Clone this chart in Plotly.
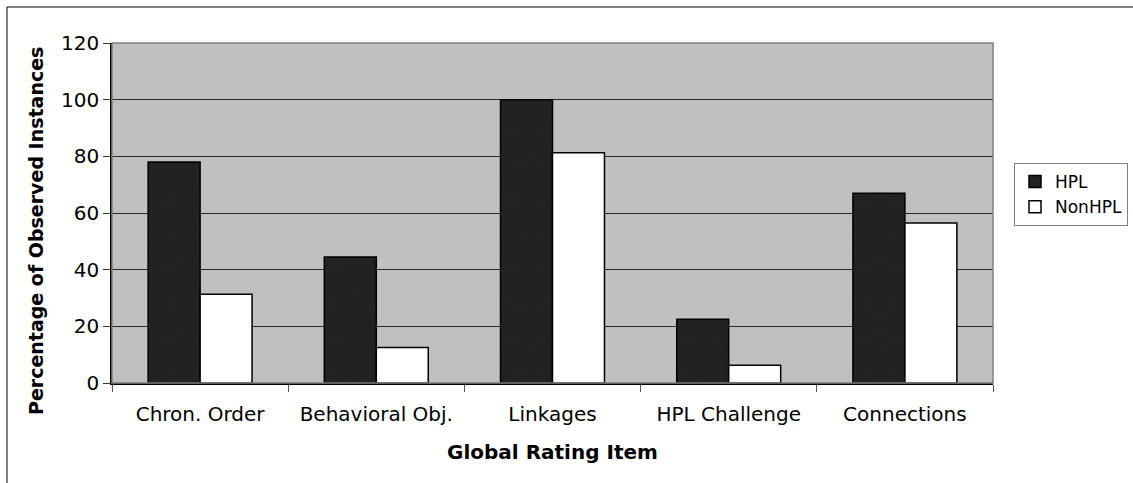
import plotly.graph_objects as go

categories = ["Chron. Order", "Behavioral Obj.", "Linkages", "HPL Challenge", "Connections"]
hpl = [78, 44.5, 100, 22.5, 67]
nonhpl = [31.3, 12.5, 81.3, 6.3, 56.5]
y_ticks = [0, 20, 40, 60, 80, 100, 120]

FONT = "DejaVu Sans, Verdana, sans-serif"

fig = go.Figure()
fig.add_trace(go.Bar(
    x=categories, y=hpl, name="HPL",
    marker=dict(color="#1e1e1e", line=dict(color="#000000", width=1.5),
                pattern=dict(shape="x", fgcolor="#444444", bgcolor="#1e1e1e", size=3, solidity=0.3)),
))
fig.add_trace(go.Bar(
    x=categories, y=nonhpl, name="NonHPL",
    marker=dict(color="#ffffff", line=dict(color="#000000", width=1.5)),
))

W, H = 1133, 483
L, R, T, B = 112, 140, 43, 100
pw, ph = W - L - R, H - T - B
bx = (7 - L) / pw          # outer frame left edge (paper units)
by = (H - B - 7) / ph      # outer frame top edge (paper units)

fig.update_layout(
    width=W, height=H,
    margin=dict(l=L, r=R, t=T, b=B, autoexpand=False),
    paper_bgcolor="#ffffff",
    plot_bgcolor="#c0c0c0",
    barmode="group",
    bargap=0.41,
    bargroupgap=0,
    font=dict(family=FONT, size=20, color="#000000"),
    showlegend=True,
    legend=dict(
        x=(1128 - L) / pw, y=(H - B - 163) / ph, xanchor="right", yanchor="top",
        bordercolor="#808080", borderwidth=1, bgcolor="#ffffff",
        font=dict(family=FONT, size=17), itemwidth=30, tracegroupgap=0,
    ),
    xaxis=dict(
        showgrid=False, ticks="outside", tickson="boundaries", ticklen=7,
        tickcolor="#555555", showline=True, linecolor="#000000", linewidth=1.5,
        tickfont=dict(family=FONT, size=20), automargin=False, ticklabelstandoff=12,
    ),
    yaxis=dict(
        range=[0, 120], tickvals=y_ticks, ticktext=[str(v) for v in y_ticks],
        showgrid=True, gridcolor="#2a2a2a", gridwidth=1.3, zeroline=False,
        ticks="outside", ticklen=7, tickcolor="#333333",
        showline=True, linecolor="#000000", linewidth=1.5,
        tickfont=dict(family=FONT, size=20), automargin=False,
    ),
    annotations=[
        dict(text="<b>Global Rating Item</b>", xref="paper", yref="paper",
             x=0.5, y=-(452 - (H - B)) / ph, xanchor="center", yanchor="middle",
             showarrow=False, font=dict(family=FONT, size=20)),
        dict(text="<b>Percentage of Observed Instances</b>", xref="paper", yref="paper",
             x=(36 - L) / pw, y=(H - B - 231) / ph, xanchor="center", yanchor="middle",
             textangle=-90, showarrow=False, font=dict(family=FONT, size=19)),
    ],
    shapes=[
        dict(type="rect", xref="paper", yref="paper", x0=0, x1=1, y0=0, y1=1,
             line=dict(color="#808080", width=1.5), layer="above"),
        dict(type="line", xref="paper", yref="paper", x0=bx, x1=1.5, y0=by, y1=by,
             line=dict(color="#000000", width=1), layer="above"),
        dict(type="line", xref="paper", yref="paper", x0=bx, x1=bx, y0=by, y1=-1.0,
             line=dict(color="#000000", width=1), layer="above"),
    ],
)

fig.write_html("out.html", config={"displayModeBar": False},
               post_script="document.body.style.margin='0';document.body.style.overflow='hidden';")
